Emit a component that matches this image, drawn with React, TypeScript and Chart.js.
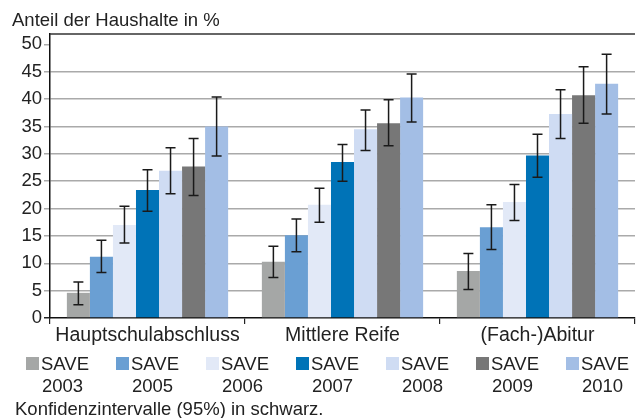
import React, { useEffect, useRef } from "react";
import { Chart, registerables } from "chart.js";

Chart.register(...registerables);

const categories = ["Hauptschulabschluss", "Mittlere Reife", "(Fach-)Abitur"];
const seriesNames = ["SAVE 2003", "SAVE 2005", "SAVE 2006", "SAVE 2007", "SAVE 2008", "SAVE 2009", "SAVE 2010"];
const seriesColors = ["#a5a7a6", "#6a9fd3", "#e2e9f7", "#0073b7", "#cfdcf3", "#777777", "#a3bee5"];

const save2003 = [4.6, 10.3, 8.6];
const save2005 = [11.2, 15.1, 16.6];
const save2006 = [17.0, 20.7, 21.2];
const save2007 = [23.4, 28.5, 29.7];
const save2008 = [26.9, 34.5, 37.3];
const save2009 = [27.7, 35.6, 40.7];
const save2010 = [35.0, 40.3, 42.8];

const low2003 = [2.4, 7.4, 5.2];
const low2005 = [8.3, 12.1, 12.5];
const low2006 = [13.7, 17.5, 17.8];
const low2007 = [19.5, 25.0, 25.7];
const low2008 = [22.7, 30.6, 32.8];
const low2009 = [22.4, 31.5, 35.6];
const low2010 = [29.6, 35.8, 37.3];

const high2003 = [6.6, 13.1, 11.8];
const high2005 = [14.2, 18.1, 20.7];
const high2006 = [20.4, 23.7, 24.4];
const high2007 = [27.1, 31.7, 33.6];
const high2008 = [31.1, 38.0, 41.7];
const high2009 = [32.8, 39.9, 45.9];
const high2010 = [40.4, 44.6, 48.2];

const yTitle = "Anteil der Haushalte in %";
const footnote = "Konfidenzintervalle (95%) in schwarz.";

const values = [save2003, save2005, save2006, save2007, save2008, save2009, save2010];
const lows = [low2003, low2005, low2006, low2007, low2008, low2009, low2010];
const highs = [high2003, high2005, high2006, high2007, high2008, high2009, high2010];

const FONT = "'Liberation Sans', Arial, Helvetica, sans-serif";
const TEXT = "#222222";

const extrasPlugin = {
  id: "extras",
  afterDatasetsDraw(chart: any) {
    const ctx = chart.ctx;
    const y = chart.scales.y;
    ctx.save();
    ctx.strokeStyle = "#1a1a1a";
    ctx.lineWidth = 1.5;
    chart.data.datasets.forEach((ds: any, di: number) => {
      const meta = chart.getDatasetMeta(di);
      meta.data.forEach((bar: any, i: number) => {
        const x = bar.x;
        const yl = y.getPixelForValue(lows[di][i]);
        const yh = y.getPixelForValue(highs[di][i]);
        const cap = 5;
        ctx.beginPath();
        ctx.moveTo(x, yl);
        ctx.lineTo(x, yh);
        ctx.moveTo(x - cap, yl);
        ctx.lineTo(x + cap, yl);
        ctx.moveTo(x - cap, yh);
        ctx.lineTo(x + cap, yh);
        ctx.stroke();
      });
    });
    ctx.restore();
  },
  afterDraw(chart: any) {
    const ctx = chart.ctx;
    const area = chart.chartArea;
    ctx.save();
    // top frame line
    ctx.strokeStyle = "#333333";
    ctx.lineWidth = 1.5;
    ctx.beginPath();
    ctx.moveTo(area.left, area.top);
    ctx.lineTo(area.right, area.top);
    ctx.stroke();

    ctx.fillStyle = TEXT;
    ctx.textBaseline = "alphabetic";
    ctx.textAlign = "left";
    ctx.font = `18.5px ${FONT}`;
    ctx.fillText(yTitle, 12, 26);

    // legend
    const startX = 26;
    const step = 90;
    chart.data.datasets.forEach((ds: any, i: number) => {
      const x = startX + i * step;
      ctx.fillStyle = ds.backgroundColor;
      ctx.fillRect(x, 357, 13, 13);
      ctx.fillStyle = TEXT;
      const parts = String(ds.label).split(" ");
      ctx.fillText(parts[0], x + 15, 370);
      ctx.fillText(parts[1], x + 16, 391.5);
    });

    ctx.fillText(footnote, 15, 415);
    ctx.restore();
  },
};

export default function App() {
  const ref = useRef<HTMLCanvasElement>(null);
  useEffect(() => {
    if (!ref.current) return;
    const chart = new Chart(ref.current, {
      type: "bar",
      data: {
        labels: categories,
        datasets: seriesNames.map((name, i) => ({
          label: name,
          data: values[i],
          backgroundColor: seriesColors[i],
          borderWidth: 0,
          barPercentage: 1,
          categoryPercentage: 0.827,
        })),
      },
      options: {
        responsive: false,
        animation: false,
        layout: { padding: { top: 34, right: 8, left: 0, bottom: 0 } },
        plugins: {
          legend: { display: false },
          title: { display: false },
          tooltip: { enabled: false },
        },
        scales: {
          x: {
            offset: true,
            grid: {
              drawOnChartArea: false,
              drawTicks: true,
              tickLength: 6,
              tickColor: "#222222",
              lineWidth: 1.2,
            },
            border: { color: "#111111", width: 1.5 },
            ticks: {
              color: TEXT,
              font: { family: FONT, size: 19.5 },
              padding: 0,
              maxRotation: 0,
            },
            afterFit: (scale: any) => {
              scale.height = 100;
            },
          },
          y: {
            min: 0,
            max: 51.9,
            ticks: {
              stepSize: 5,
              includeBounds: false,
              color: TEXT,
              font: { family: FONT, size: 18.5 },
              padding: 2,
            },
            grid: {
              color: (c: any) => (c.tick && (c.tick.value === 0 || c.tick.value >= 50) ? "rgba(0,0,0,0)" : "#aaaaaa"),
              tickColor: (c: any) => (c.tick && c.tick.value === 0 ? "#222222" : "#aaaaaa"),
              lineWidth: 1.5,
              tickLength: 6,
            },
            border: { color: "#111111", width: 1.5 },
            afterFit: (scale: any) => {
              scale.width = 50;
            },
          },
        },
      },
      plugins: [extrasPlugin],
    });
    return () => chart.destroy();
  }, []);
  return (
    <div style={{ position: "absolute", left: 0, top: 0, width: 643, height: 418, background: "#fff" }}>
      <canvas ref={ref} width={643} height={418} style={{ display: "block" }} />
    </div>
  );
}
